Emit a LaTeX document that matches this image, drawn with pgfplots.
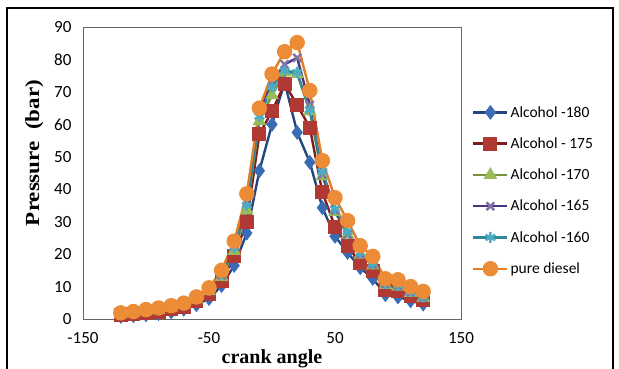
\documentclass[border=0pt]{standalone}
\usepackage{graphicx}
\usepackage{pgfplots}
\pgfplotsset{compat=1.18}
\usepackage{fontspec}
\setmainfont{Carlito}
\newfontfamily\tnr{Liberation Serif}
\definecolor{bline}{RGB}{35,70,127}
\definecolor{bfill}{RGB}{58,108,181}
\definecolor{rline}{RGB}{127,29,29}
\definecolor{rfill}{RGB}{176,58,51}
\definecolor{gline}{RGB}{119,147,60}
\definecolor{gfill}{RGB}{155,187,89}
\definecolor{pline}{RGB}{74,52,128}
\definecolor{cline}{RGB}{49,133,156}
\definecolor{cfill}{RGB}{75,172,198}
\definecolor{oline}{RGB}{226,125,40}
\definecolor{ofill}{RGB}{237,140,55}
\begin{document}
\begin{tikzpicture}[x=1pt,y=1pt]
\path[use as bounding box] (-83,-50) rectangle (536,319);
\draw[line width=1.2pt] (-76,-50) -- (-76,311) -- (530,311) -- (530,-50);
\begin{axis}[
  anchor=south west,
  width=378pt, height=292pt, scale only axis,
  xmin=-150, xmax=150, ymin=0, ymax=90,
  xtick={-150,-50,50,150}, ytick={0,10,...,90},
  major tick length=0pt,
  axis line style={draw=black!60, line width=0.8pt},
  tick label style={font=\fontsize{17}{20}\selectfont},
  /pgf/number format/assume math mode=true,
  xticklabel style={yshift=-10pt},
  yticklabel style={xshift=-8pt},
  xlabel={\tnr\bfseries crank angle},
  xlabel style={font=\fontsize{20}{24}\selectfont, yshift=1pt},
  ylabel={\scalebox{1.15}[1]{\tnr\bfseries Pressure\ \ (bar)}},
  ylabel style={font=\fontsize{20}{24}\selectfont, yshift=4pt, xshift=20pt},
  legend style={draw=none, fill=none, at={(1,0.736)}, anchor=north west, xshift=11pt,
    font=\fontsize{15.5}{18}\selectfont, row sep=15pt, inner sep=0pt},
  legend cell align=left,
  legend image code/.code={\draw[mark repeat=2,mark phase=2] plot coordinates {(0pt,0pt) (17pt,0pt) (34pt,0pt)};},
  every axis plot/.append style={line width=2.4pt, mark options={solid, line width=0.8pt}},
]
\addplot[color=bline, mark=diamond*, mark size=5.5pt, mark options={fill=bfill, draw=bfill}] coordinates {
(-120,0.8) (-110,1.0) (-100,1.3) (-90,1.7) (-80,2.2) (-70,3.0) (-60,4.4) (-50,6.3) (-40,10.3) (-30,16.5) (-20,26.5) (-10,45.7) (0,60.0) (10,73.0) (20,57.5) (30,48.3) (40,34.3) (50,25.5) (60,20.5) (70,15.8) (80,12.5) (90,7.5) (100,6.8) (110,5.6) (120,4.6)};
\addlegendentry{Alcohol -180}
\addplot[color=rline, mark=square*, mark size=5.8pt, mark options={fill=rfill, draw=rfill}] coordinates {
(-120,1.2) (-110,1.5) (-100,1.9) (-90,2.3) (-80,3.0) (-70,3.8) (-60,5.4) (-50,7.6) (-40,11.6) (-30,19.3) (-20,30.0) (-10,57.0) (0,64.0) (10,72.5) (20,66.0) (30,59.0) (40,39.0) (50,28.5) (60,22.4) (70,17.3) (80,14.8) (90,9.0) (100,8.5) (110,7.0) (120,6.0)};
\addlegendentry{Alcohol - 175}
\addplot[color=gline, mark=triangle*, mark size=5.5pt, mark options={fill=gfill, draw=gfill}] coordinates {
(-120,1.5) (-110,1.8) (-100,2.3) (-90,2.8) (-80,3.5) (-70,4.3) (-60,6.0) (-50,8.6) (-40,13.0) (-30,21.0) (-20,33.5) (-10,61.0) (0,69.0) (10,76.0) (20,75.5) (30,64.0) (40,44.0) (50,33.0) (60,26.0) (70,19.8) (80,16.5) (90,10.5) (100,10.0) (110,8.0) (120,6.5)};
\addlegendentry{Alcohol -170}
\addplot[color=pline, mark=x, mark size=5.5pt, mark options={draw=pline!70}] coordinates {
(-120,1.6) (-110,1.9) (-100,2.4) (-90,2.9) (-80,3.6) (-70,4.4) (-60,6.2) (-50,8.8) (-40,13.5) (-30,22.5) (-20,36.0) (-10,64.0) (0,73.0) (10,78.5) (20,80.5) (30,66.0) (40,44.5) (50,33.5) (60,26.0) (70,20.0) (80,16.8) (90,10.8) (100,10.2) (110,8.2) (120,6.6)};
\addlegendentry{Alcohol -165}
\addplot[color=cline, mark=asterisk, mark size=5.5pt, mark options={draw=cfill}] coordinates {
(-120,1.6) (-110,1.9) (-100,2.4) (-90,2.9) (-80,3.6) (-70,4.5) (-60,6.3) (-50,9.0) (-40,13.8) (-30,22.0) (-20,35.0) (-10,62.5) (0,71.5) (10,76.5) (20,76.0) (30,64.5) (40,45.5) (50,34.0) (60,27.0) (70,20.5) (80,17.0) (90,11.0) (100,10.4) (110,8.4) (120,6.8)};
\addlegendentry{Alcohol -160}
\addplot[color=oline, mark=*, mark size=6.5pt, mark options={fill=ofill, draw=ofill}] coordinates {
(-120,1.9) (-110,2.3) (-100,2.9) (-90,3.4) (-80,4.1) (-70,4.9) (-60,6.8) (-50,9.6) (-40,15.0) (-30,24.0) (-20,38.6) (-10,65.0) (0,75.5) (10,82.4) (20,85.2) (30,70.4) (40,48.8) (50,37.4) (60,30.3) (70,22.6) (80,19.3) (90,12.4) (100,12.1) (110,10.0) (120,8.5)};
\addlegendentry{pure diesel}
\end{axis}
\end{tikzpicture}
\end{document}
